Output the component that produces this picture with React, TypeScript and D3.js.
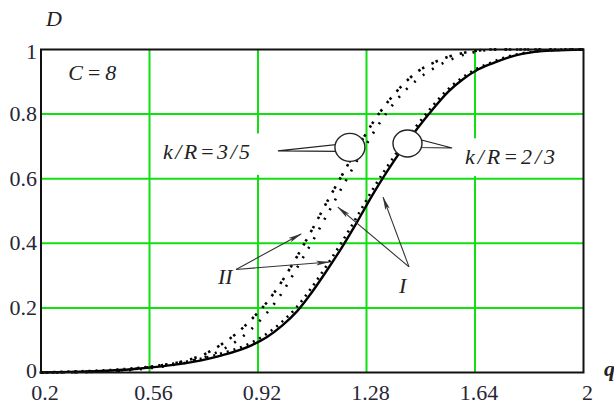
import React from "react";
import * as d3 from "d3";

const W = 614;
const H = 405;

const xTicks = [0.2, 0.56, 0.92, 1.28, 1.64, 2];
const xTickLabels = ["0.2", "0.56", "0.92", "1.28", "1.64", "2"];
const yTicks = [0, 0.2, 0.4, 0.6, 0.8, 1];
const yTickLabels = ["0", "0.2", "0.4", "0.6", "0.8", "1"];

// k/R = 2/3, curve I (solid)
const q23I = [0.2, 0.3, 0.4, 0.5, 0.6, 0.7, 0.8, 0.9, 0.95, 1.0, 1.05, 1.1, 1.15, 1.2, 1.25, 1.3, 1.35, 1.4, 1.45, 1.5, 1.55, 1.6, 1.65, 1.7, 1.75, 1.8, 1.9, 2.0];
const d23I = [0, 0.002, 0.005, 0.01, 0.019, 0.032, 0.053, 0.085, 0.11, 0.145, 0.19, 0.25, 0.318, 0.39, 0.468, 0.55, 0.625, 0.694, 0.757, 0.815, 0.868, 0.908, 0.938, 0.958, 0.975, 0.987, 0.997, 1.0];
// k/R = 2/3, curve II (dotted, nearly coincident)
const q23II = [0.2, 0.3, 0.4, 0.5, 0.6, 0.7, 0.8, 0.9, 0.95, 1.0, 1.05, 1.1, 1.15, 1.2, 1.25, 1.3, 1.35, 1.4, 1.45, 1.5, 1.55, 1.6, 1.65, 1.7, 1.75, 1.8, 1.9, 2.0];
const d23II = [0, 0.003, 0.006, 0.012, 0.022, 0.036, 0.058, 0.091, 0.117, 0.153, 0.199, 0.259, 0.327, 0.399, 0.477, 0.558, 0.632, 0.7, 0.762, 0.82, 0.872, 0.911, 0.94, 0.96, 0.977, 0.988, 0.998, 1.0];
// k/R = 3/5, curve II (left dotted)
const q35II = [0.2, 0.4, 0.5, 0.6, 0.7, 0.75, 0.8, 0.85, 0.9, 0.95, 1.0, 1.05, 1.1, 1.15, 1.2, 1.25, 1.3, 1.35, 1.4, 1.45, 1.5, 1.55, 1.6, 1.65, 1.7, 2.0];
const d35II = [0, 0.003, 0.01, 0.022, 0.042, 0.06, 0.088, 0.122, 0.166, 0.218, 0.283, 0.36, 0.443, 0.53, 0.613, 0.695, 0.772, 0.837, 0.89, 0.932, 0.958, 0.977, 0.989, 0.997, 1.0, 1.0];
// k/R = 3/5, curve I (right dotted)
const q35I = [0.2, 0.4, 0.5, 0.6, 0.7, 0.8, 0.85, 0.9, 0.95, 1.0, 1.05, 1.1, 1.15, 1.2, 1.25, 1.3, 1.35, 1.4, 1.45, 1.5, 1.55, 1.6, 1.65, 1.7, 2.0];
const d35I = [0, 0.003, 0.008, 0.018, 0.035, 0.07, 0.098, 0.136, 0.185, 0.247, 0.325, 0.405, 0.49, 0.575, 0.658, 0.738, 0.808, 0.865, 0.908, 0.94, 0.965, 0.983, 0.994, 1.0, 1.0];

const FONT = "'Liberation Serif', 'DejaVu Serif', 'Noto Serif', serif";
const TICK_COLOR = "#262636";
const GRID = "#10e010";

export default function App() {
  const x = d3.scaleLinear().domain([0.2, 2]).range([41, 583.5]);
  const y = d3.scaleLinear().domain([0, 1]).range([372.5, 49.5]);

  const mk = (qs: number[], ds: number[]) =>
    d3
      .line<number>()
      .x((_, i) => x(qs[i]))
      .y((d) => y(d))
      .curve(d3.curveMonotoneX)(ds) || "";

  const p23I = mk(q23I, d23I);
  const p23II = mk(q23II, d23II);
  const p35I = mk(q35I, d35I);
  const p35II = mk(q35II, d35II);

  // annotation anchors in data space
  const c35 = { q: 1.225, d: 0.697 };
  const c23 = { q: 1.416, d: 0.709 };
  const w35tip = { q: 0.986, d: 0.686 };
  const w23tip = { q: 1.564, d: 0.695 };
  const iiStart = { q: 0.847, d: 0.319 };
  const iiTips = [
    { q: 1.063, d: 0.429 },
    { q: 1.156, d: 0.342 },
  ];
  const iStart = { q: 1.421, d: 0.327 };
  const iTips = [
    { q: 1.185, d: 0.512 },
    { q: 1.335, d: 0.543 },
  ];

  const cx35 = x(c35.q), cy35 = y(c35.d);
  const cx23 = x(c23.q), cy23 = y(c23.d);

  return (
    <svg
      width={W}
      height={H}
      style={{ position: "absolute", left: 0, top: 0, background: "#fff" }}
    >
      <defs>
        <marker id="ah" viewBox="0 0 14 6" refX="13" refY="3" markerWidth="14" markerHeight="6" markerUnits="userSpaceOnUse" orient="auto">
          <path d="M0,0.6 L14,3 L0,5.4 L3,3 Z" fill="#333" />
        </marker>
      </defs>

      {/* grid */}
      {xTicks.slice(1, -1).map((t) => (
        <line key={"gx" + t} x1={x(t)} x2={x(t)} y1={y(1)} y2={y(0)} stroke={GRID} strokeWidth={2} />
      ))}
      {yTicks.slice(1, -1).map((t) => (
        <line key={"gy" + t} x1={x(0.2)} x2={x(2)} y1={y(t)} y2={y(t)} stroke={GRID} strokeWidth={2} />
      ))}

      {/* label backgrounds */}
      <rect x={x(0.58)} y={y(0.74)} width={x(0.985) - x(0.58)} height={y(0.612) - y(0.74)} fill="#fff" />
      <rect x={x(1.57)} y={y(0.725)} width={x(1.93) - x(1.57)} height={y(0.608) - y(0.725)} fill="#fff" />

      {/* curves */}
      <path d={p35II} fill="none" stroke="#000" strokeWidth={2.6} strokeDasharray="2.5,2,2.5,8" />
      <path d={p35I} fill="none" stroke="#000" strokeWidth={2.6} strokeDasharray="2,9" />
      <path d={p23I} fill="none" stroke="#000" strokeWidth={2.4} />
      <path d={p23II} fill="none" stroke="#000" strokeWidth={2.6} strokeDasharray="2,5" transform="translate(-1.5,0)" />

      {/* frame */}
      <rect x={x(0.2)} y={y(1)} width={x(2) - x(0.2)} height={y(0) - y(1)} fill="none" stroke="#111" strokeWidth={2} />

      <g fontFamily={FONT}>
        {/* callout k/R=3/5 */}
        <path
          d={`M${x(w35tip.q)},${y(w35tip.d)} L${cx35 - 12},${cy35 - 3} L${cx35 - 12},${cy35 + 4} Z`}
          fill="#fff"
          stroke="#222"
          strokeWidth={1.2}
        />
        <ellipse cx={cx35} cy={cy35} rx={15} ry={14} fill="#fff" stroke="#222" strokeWidth={1.4} />
        <text x={x(0.605)} y={y(0.661)} fontSize={22} fontStyle="italic" fill="#222" textLength={87} lengthAdjust="spacing">
          k/R=3/5
        </text>

        {/* callout k/R=2/3 */}
        <path
          d={`M${x(w23tip.q)},${y(w23tip.d)} L${cx23 + 12},${cy23 - 4} L${cx23 + 12},${cy23 + 4} Z`}
          fill="#fff"
          stroke="#222"
          strokeWidth={1.2}
        />
        <ellipse cx={cx23} cy={cy23} rx={14.5} ry={13.5} fill="#fff" stroke="#222" strokeWidth={1.4} />
        <text x={x(1.607)} y={y(0.646)} fontSize={22} fontStyle="italic" fill="#222" textLength={90} lengthAdjust="spacing">
          k/R=2/3
        </text>

        {/* arrows II */}
        {iiTips.map((t, i) => (
          <line key={"ii" + i} x1={x(iiStart.q)} y1={y(iiStart.d)} x2={x(t.q)} y2={y(t.d)} stroke="#333" strokeWidth={1.1} markerEnd="url(#ah)" />
        ))}
        <text x={x(0.787)} y={y(0.274)} fontSize={22} fontStyle="italic" fill="#222">
          II
        </text>

        {/* arrows I */}
        {iTips.map((t, i) => (
          <line key={"i" + i} x1={x(iStart.q)} y1={y(iStart.d)} x2={x(t.q)} y2={y(t.d)} stroke="#333" strokeWidth={1.1} markerEnd="url(#ah)" />
        ))}
        <text x={x(1.388)} y={y(0.246)} fontSize={22} fontStyle="italic" fill="#222">
          I
        </text>

        {/* C=8 */}
        <text x={x(0.29)} y={y(0.906)} fontSize={22} fontStyle="italic" fill="#222" textLength={48} lengthAdjust="spacing">
          C=8
        </text>

        {/* tick labels */}
        {xTicks.map((t, i) => (
          <text key={"xl" + t} x={x(t) + 4} y={400} fontSize={22} textAnchor="middle" fill={TICK_COLOR}>
            {xTickLabels[i]}
          </text>
        ))}
        {yTicks.map((t, i) => (
          <text key={"yl" + t} x={37} y={y(t) + 7 + (t === 1 ? 2 : 0) - (t === 0 ? 2 : 0)} fontSize={22} textAnchor="end" fill={TICK_COLOR}>
            {yTickLabels[i]}
          </text>
        ))}

        {/* axis titles */}
        <text x={46} y={26} fontSize={22} fontStyle="italic" fill="#222">
          D
        </text>
        <text x={604} y={376} fontSize={22} fontStyle="italic" fontWeight="bold" fill="#222">
          q
        </text>
      </g>
    </svg>
  );
}
